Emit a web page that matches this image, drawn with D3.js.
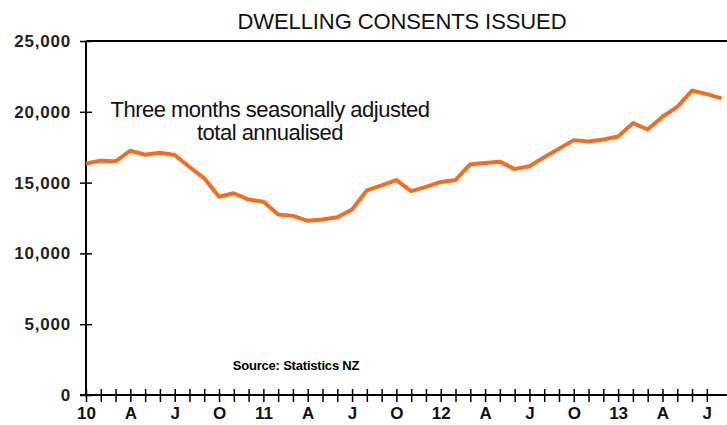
<!DOCTYPE html>
<head>
  <meta charset="utf-8">
  <script src="https://d3js.org/d3.v7.min.js"></script>
  <style>
    body { margin:0; background:#fff; }
    text { font-family: "Liberation Sans", Arial, sans-serif; }
  </style>
</head>
<body>
<script>
  // monthly values, Jan 2010 .. Aug 2013
  var consents = [16350, 16550, 16500, 17250, 16970, 17110, 16950, 16100, 15300, 14000,
                  14250, 13800, 13650, 12750, 12650, 12300, 12400, 12550, 13100, 14450,
                  14800, 15180, 14400, 14700, 15050, 15180, 16300, 16380, 16480, 15950,
                  16150, 16800, 17400, 18000, 17900, 18050, 18250, 19200, 18750, 19650,
                  20350, 21500, 21250, 20950]
  var monthLabels = ["10", "A", "J", "O", "11", "A", "J", "O", "12", "A", "J", "O", "13", "A", "J"]
  var yTicks = [0, 5000, 10000, 15000, 20000, 25000]

  var svg = d3.select("body")
    .append("svg")
    .attr("width", 727)
    .attr("height", 425)

  var x = d3.scaleLinear()
    .domain([0, 42])
    .range([86, 706.8])

  var y = d3.scaleLinear()
    .domain([0, 25000])
    .range([395, 41])

  // title
  svg.append("text")
    .attr("x", 402).attr("y", 29)
    .attr("text-anchor", "middle")
    .style("font-size", "22px")
    .style("letter-spacing", "-0.1px")
    .attr("fill", "#111")
    .text("DWELLING CONSENTS ISSUED")

  // top border
  svg.append("line")
    .attr("x1", x(0)).attr("x2", 727)
    .attr("y1", y(25000)).attr("y2", y(25000))
    .attr("stroke", "#000").attr("stroke-width", 2)

  var xAxis = d3.axisBottom(x)
    .tickValues(d3.range(0, 43))
    .tickSize(6)
    .tickFormat(function(d) { return d % 3 == 0 ? monthLabels[d / 3] : "" })

  var gx = svg.append("g")
    .attr("transform", "translate(0," + y(0) + ")")
    .call(xAxis)
  gx.select(".domain").remove()
  gx.append("line")
    .attr("x1", x(0) - 6).attr("x2", 727)
    .attr("stroke", "#000").attr("stroke-width", 2)
  gx.selectAll(".tick line").attr("y1", -6).attr("y2", 7).attr("stroke-width", 1.5)
  gx.selectAll(".tick text")
    .attr("y", 12)
    .style("font-size", "17px").style("font-weight", "bold")
    .style("font-family", "Liberation Sans, Arial, sans-serif")
    .attr("fill", "#111")

  var yAxis = d3.axisLeft(y)
    .tickValues(yTicks)
    .tickSize(6)
    .tickFormat(d3.format(","))

  var gy = svg.append("g")
    .attr("transform", "translate(" + x(0) + ",0)")
    .call(yAxis)
  gy.select(".domain").remove()
  gy.append("line")
    .attr("y1", y(0)).attr("y2", y(25000))
    .attr("stroke", "#000").attr("stroke-width", 2)
  gy.selectAll(".tick line").attr("x1", -6).attr("x2", 6).attr("stroke-width", 1.5)
  gy.selectAll(".tick text")
    .attr("x", -15)
    .style("font-size", "17px").style("font-weight", "bold")
    .style("letter-spacing", "0.8px")
    .style("font-family", "Liberation Sans, Arial, sans-serif")
    .attr("fill", "#222")

  // annotation
  svg.append("text")
    .attr("x", 270).attr("y", 117)
    .attr("text-anchor", "middle")
    .style("font-size", "22px")
    .style("letter-spacing", "-0.5px")
    .attr("fill", "#111")
    .text("Three months seasonally adjusted")
  svg.append("text")
    .attr("x", 270).attr("y", 140)
    .attr("text-anchor", "middle")
    .style("font-size", "22px")
    .style("letter-spacing", "-0.5px")
    .attr("fill", "#111")
    .text("total annualised")

  svg.append("text")
    .attr("x", 296).attr("y", 370)
    .attr("text-anchor", "middle")
    .style("font-size", "13px").style("font-weight", "bold")
    .style("letter-spacing", "-0.2px")
    .text("Source: Statistics NZ")

  var line = d3.line()
    .x(function(d, i) { return x(i) })
    .y(function(d) { return y(d) })

  svg.append("path")
    .datum(consents)
    .attr("d", line)
    .attr("fill", "none")
    .attr("stroke", "#f26d21")
    .attr("stroke-width", 4)
    .attr("stroke-linejoin", "round")
</script>
</body>
